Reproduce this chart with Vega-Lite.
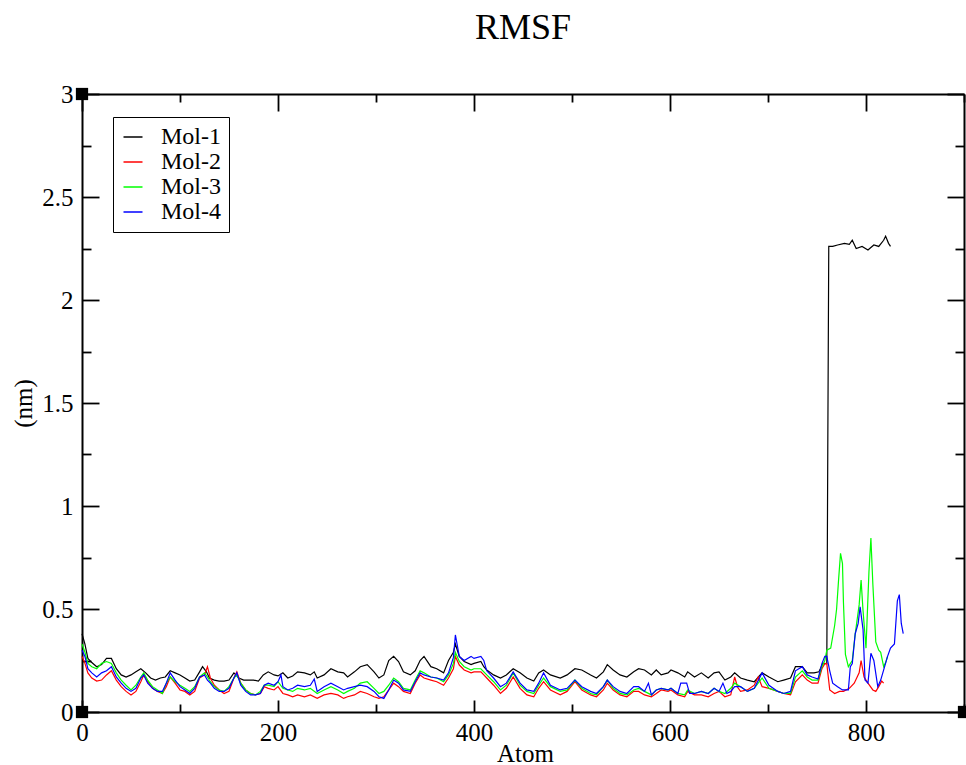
{
"$schema": "https://vega.github.io/schema/vega-lite/v6.json",
"width": 882, "height": 618,
"autosize": {"type": "none"},
"padding": {"left": 82, "top": 94, "right": 2, "bottom": 53},
"background": "white",
"title": {"text": "RMSF", "font": "Liberation Serif", "fontSize": 36, "fontWeight": "normal", "color": "black", "anchor": "middle", "frame": "group", "baseline": "alphabetic", "offset": 7},
"config": {
  "view": {"stroke": null},
  "axis": {"grid": false, "domainColor": "black", "domainWidth": 2, "tickColor": "black", "tickWidth": 1.8, "labelColor": "black", "labelFont": "Liberation Serif", "labelFontSize": 25, "titleFont": "Liberation Serif", "titleFontSize": 25, "titleFontWeight": "normal", "titleColor": "black", "labelFlush": false, "labelOverlap": false}
},
"datasets": {
"rmsf": [
{"atom":0,"mol":"Mol-1","rmsf":0.38},{"atom":3,"mol":"Mol-1","rmsf":0.33},{"atom":6,"mol":"Mol-1","rmsf":0.26},{"atom":10,"mol":"Mol-1","rmsf":0.24},{"atom":15,"mol":"Mol-1","rmsf":0.22},{"atom":20,"mol":"Mol-1","rmsf":0.23},{"atom":25,"mol":"Mol-1","rmsf":0.26},{"atom":30,"mol":"Mol-1","rmsf":0.26},{"atom":35,"mol":"Mol-1","rmsf":0.21},{"atom":40,"mol":"Mol-1","rmsf":0.18},{"atom":45,"mol":"Mol-1","rmsf":0.17},{"atom":50,"mol":"Mol-1","rmsf":0.18},{"atom":55,"mol":"Mol-1","rmsf":0.195},{"atom":60,"mol":"Mol-1","rmsf":0.21},{"atom":65,"mol":"Mol-1","rmsf":0.19},{"atom":70,"mol":"Mol-1","rmsf":0.165},{"atom":75,"mol":"Mol-1","rmsf":0.155},{"atom":80,"mol":"Mol-1","rmsf":0.165},{"atom":85,"mol":"Mol-1","rmsf":0.17},{"atom":90,"mol":"Mol-1","rmsf":0.2},{"atom":95,"mol":"Mol-1","rmsf":0.19},{"atom":100,"mol":"Mol-1","rmsf":0.18},{"atom":105,"mol":"Mol-1","rmsf":0.165},{"atom":110,"mol":"Mol-1","rmsf":0.15},{"atom":115,"mol":"Mol-1","rmsf":0.155},{"atom":120,"mol":"Mol-1","rmsf":0.195},{"atom":123,"mol":"Mol-1","rmsf":0.22},{"atom":127,"mol":"Mol-1","rmsf":0.195},{"atom":130,"mol":"Mol-1","rmsf":0.165},{"atom":135,"mol":"Mol-1","rmsf":0.155},{"atom":140,"mol":"Mol-1","rmsf":0.15},{"atom":145,"mol":"Mol-1","rmsf":0.15},{"atom":150,"mol":"Mol-1","rmsf":0.155},{"atom":155,"mol":"Mol-1","rmsf":0.19},{"atom":160,"mol":"Mol-1","rmsf":0.165},{"atom":165,"mol":"Mol-1","rmsf":0.155},{"atom":170,"mol":"Mol-1","rmsf":0.155},{"atom":175,"mol":"Mol-1","rmsf":0.155},{"atom":180,"mol":"Mol-1","rmsf":0.15},{"atom":185,"mol":"Mol-1","rmsf":0.18},{"atom":190,"mol":"Mol-1","rmsf":0.195},{"atom":196,"mol":"Mol-1","rmsf":0.18},{"atom":200,"mol":"Mol-1","rmsf":0.175},{"atom":205,"mol":"Mol-1","rmsf":0.19},{"atom":210,"mol":"Mol-1","rmsf":0.165},{"atom":215,"mol":"Mol-1","rmsf":0.175},{"atom":220,"mol":"Mol-1","rmsf":0.195},{"atom":227,"mol":"Mol-1","rmsf":0.19},{"atom":233,"mol":"Mol-1","rmsf":0.18},{"atom":237,"mol":"Mol-1","rmsf":0.195},{"atom":240,"mol":"Mol-1","rmsf":0.165},{"atom":247,"mol":"Mol-1","rmsf":0.18},{"atom":254,"mol":"Mol-1","rmsf":0.21},{"atom":261,"mol":"Mol-1","rmsf":0.195},{"atom":267,"mol":"Mol-1","rmsf":0.19},{"atom":271,"mol":"Mol-1","rmsf":0.17},{"atom":278,"mol":"Mol-1","rmsf":0.195},{"atom":284,"mol":"Mol-1","rmsf":0.22},{"atom":291,"mol":"Mol-1","rmsf":0.23},{"atom":298,"mol":"Mol-1","rmsf":0.195},{"atom":303,"mol":"Mol-1","rmsf":0.165},{"atom":308,"mol":"Mol-1","rmsf":0.18},{"atom":313,"mol":"Mol-1","rmsf":0.25},{"atom":318,"mol":"Mol-1","rmsf":0.27},{"atom":323,"mol":"Mol-1","rmsf":0.245},{"atom":328,"mol":"Mol-1","rmsf":0.195},{"atom":335,"mol":"Mol-1","rmsf":0.18},{"atom":340,"mol":"Mol-1","rmsf":0.2},{"atom":345,"mol":"Mol-1","rmsf":0.25},{"atom":349,"mol":"Mol-1","rmsf":0.27},{"atom":356,"mol":"Mol-1","rmsf":0.22},{"atom":362,"mol":"Mol-1","rmsf":0.21},{"atom":369,"mol":"Mol-1","rmsf":0.19},{"atom":374,"mol":"Mol-1","rmsf":0.25},{"atom":379,"mol":"Mol-1","rmsf":0.29},{"atom":381,"mol":"Mol-1","rmsf":0.33},{"atom":385,"mol":"Mol-1","rmsf":0.27},{"atom":390,"mol":"Mol-1","rmsf":0.245},{"atom":397,"mol":"Mol-1","rmsf":0.23},{"atom":400,"mol":"Mol-1","rmsf":0.236},{"atom":407,"mol":"Mol-1","rmsf":0.245},{"atom":410,"mol":"Mol-1","rmsf":0.22},{"atom":413,"mol":"Mol-1","rmsf":0.204},{"atom":420,"mol":"Mol-1","rmsf":0.18},{"atom":427,"mol":"Mol-1","rmsf":0.165},{"atom":433,"mol":"Mol-1","rmsf":0.18},{"atom":440,"mol":"Mol-1","rmsf":0.21},{"atom":447,"mol":"Mol-1","rmsf":0.19},{"atom":454,"mol":"Mol-1","rmsf":0.165},{"atom":461,"mol":"Mol-1","rmsf":0.15},{"atom":466,"mol":"Mol-1","rmsf":0.19},{"atom":471,"mol":"Mol-1","rmsf":0.204},{"atom":478,"mol":"Mol-1","rmsf":0.18},{"atom":488,"mol":"Mol-1","rmsf":0.165},{"atom":495,"mol":"Mol-1","rmsf":0.18},{"atom":503,"mol":"Mol-1","rmsf":0.21},{"atom":510,"mol":"Mol-1","rmsf":0.204},{"atom":519,"mol":"Mol-1","rmsf":0.18},{"atom":525,"mol":"Mol-1","rmsf":0.165},{"atom":532,"mol":"Mol-1","rmsf":0.195},{"atom":536,"mol":"Mol-1","rmsf":0.23},{"atom":542,"mol":"Mol-1","rmsf":0.204},{"atom":549,"mol":"Mol-1","rmsf":0.18},{"atom":556,"mol":"Mol-1","rmsf":0.17},{"atom":563,"mol":"Mol-1","rmsf":0.195},{"atom":568,"mol":"Mol-1","rmsf":0.21},{"atom":574,"mol":"Mol-1","rmsf":0.204},{"atom":581,"mol":"Mol-1","rmsf":0.18},{"atom":586,"mol":"Mol-1","rmsf":0.204},{"atom":591,"mol":"Mol-1","rmsf":0.18},{"atom":598,"mol":"Mol-1","rmsf":0.19},{"atom":601,"mol":"Mol-1","rmsf":0.204},{"atom":608,"mol":"Mol-1","rmsf":0.19},{"atom":615,"mol":"Mol-1","rmsf":0.17},{"atom":618,"mol":"Mol-1","rmsf":0.195},{"atom":625,"mol":"Mol-1","rmsf":0.17},{"atom":632,"mol":"Mol-1","rmsf":0.19},{"atom":639,"mol":"Mol-1","rmsf":0.165},{"atom":645,"mol":"Mol-1","rmsf":0.19},{"atom":650,"mol":"Mol-1","rmsf":0.195},{"atom":656,"mol":"Mol-1","rmsf":0.155},{"atom":662,"mol":"Mol-1","rmsf":0.17},{"atom":666,"mol":"Mol-1","rmsf":0.19},{"atom":672,"mol":"Mol-1","rmsf":0.165},{"atom":679,"mol":"Mol-1","rmsf":0.155},{"atom":686,"mol":"Mol-1","rmsf":0.147},{"atom":694,"mol":"Mol-1","rmsf":0.19},{"atom":701,"mol":"Mol-1","rmsf":0.17},{"atom":710,"mol":"Mol-1","rmsf":0.147},{"atom":716,"mol":"Mol-1","rmsf":0.155},{"atom":723,"mol":"Mol-1","rmsf":0.165},{"atom":728,"mol":"Mol-1","rmsf":0.22},{"atom":735,"mol":"Mol-1","rmsf":0.22},{"atom":740,"mol":"Mol-1","rmsf":0.19},{"atom":747,"mol":"Mol-1","rmsf":0.19},{"atom":752,"mol":"Mol-1","rmsf":0.195},{"atom":756,"mol":"Mol-1","rmsf":0.236},{"atom":760,"mol":"Mol-1","rmsf":0.235},{"atom":761,"mol":"Mol-1","rmsf":1.27},{"atom":762,"mol":"Mol-1","rmsf":2.26},{"atom":766,"mol":"Mol-1","rmsf":2.26},{"atom":771,"mol":"Mol-1","rmsf":2.267},{"atom":778,"mol":"Mol-1","rmsf":2.275},{"atom":783,"mol":"Mol-1","rmsf":2.27},{"atom":786,"mol":"Mol-1","rmsf":2.29},{"atom":790,"mol":"Mol-1","rmsf":2.25},{"atom":796,"mol":"Mol-1","rmsf":2.26},{"atom":802,"mol":"Mol-1","rmsf":2.243},{"atom":808,"mol":"Mol-1","rmsf":2.267},{"atom":813,"mol":"Mol-1","rmsf":2.26},{"atom":818,"mol":"Mol-1","rmsf":2.29},{"atom":820,"mol":"Mol-1","rmsf":2.31},{"atom":823,"mol":"Mol-1","rmsf":2.275},{"atom":825,"mol":"Mol-1","rmsf":2.26},
{"atom":0,"mol":"Mol-2","rmsf":0.27},{"atom":3,"mol":"Mol-2","rmsf":0.236},{"atom":6,"mol":"Mol-2","rmsf":0.19},{"atom":10,"mol":"Mol-2","rmsf":0.165},{"atom":15,"mol":"Mol-2","rmsf":0.15},{"atom":20,"mol":"Mol-2","rmsf":0.155},{"atom":25,"mol":"Mol-2","rmsf":0.18},{"atom":30,"mol":"Mol-2","rmsf":0.2},{"atom":35,"mol":"Mol-2","rmsf":0.155},{"atom":40,"mol":"Mol-2","rmsf":0.123},{"atom":45,"mol":"Mol-2","rmsf":0.1},{"atom":50,"mol":"Mol-2","rmsf":0.083},{"atom":55,"mol":"Mol-2","rmsf":0.1},{"atom":60,"mol":"Mol-2","rmsf":0.147},{"atom":63,"mol":"Mol-2","rmsf":0.18},{"atom":67,"mol":"Mol-2","rmsf":0.147},{"atom":72,"mol":"Mol-2","rmsf":0.115},{"atom":77,"mol":"Mol-2","rmsf":0.1},{"atom":82,"mol":"Mol-2","rmsf":0.09},{"atom":86,"mol":"Mol-2","rmsf":0.123},{"atom":90,"mol":"Mol-2","rmsf":0.17},{"atom":95,"mol":"Mol-2","rmsf":0.14},{"atom":100,"mol":"Mol-2","rmsf":0.107},{"atom":105,"mol":"Mol-2","rmsf":0.1},{"atom":110,"mol":"Mol-2","rmsf":0.083},{"atom":115,"mol":"Mol-2","rmsf":0.1},{"atom":120,"mol":"Mol-2","rmsf":0.165},{"atom":125,"mol":"Mol-2","rmsf":0.18},{"atom":128,"mol":"Mol-2","rmsf":0.22},{"atom":131,"mol":"Mol-2","rmsf":0.165},{"atom":135,"mol":"Mol-2","rmsf":0.13},{"atom":140,"mol":"Mol-2","rmsf":0.107},{"atom":145,"mol":"Mol-2","rmsf":0.09},{"atom":150,"mol":"Mol-2","rmsf":0.1},{"atom":155,"mol":"Mol-2","rmsf":0.165},{"atom":158,"mol":"Mol-2","rmsf":0.195},{"atom":162,"mol":"Mol-2","rmsf":0.14},{"atom":167,"mol":"Mol-2","rmsf":0.107},{"atom":172,"mol":"Mol-2","rmsf":0.09},{"atom":177,"mol":"Mol-2","rmsf":0.083},{"atom":182,"mol":"Mol-2","rmsf":0.09},{"atom":186,"mol":"Mol-2","rmsf":0.123},{"atom":190,"mol":"Mol-2","rmsf":0.115},{"atom":196,"mol":"Mol-2","rmsf":0.107},{"atom":200,"mol":"Mol-2","rmsf":0.123},{"atom":205,"mol":"Mol-2","rmsf":0.09},{"atom":210,"mol":"Mol-2","rmsf":0.083},{"atom":215,"mol":"Mol-2","rmsf":0.074},{"atom":220,"mol":"Mol-2","rmsf":0.083},{"atom":227,"mol":"Mol-2","rmsf":0.074},{"atom":233,"mol":"Mol-2","rmsf":0.083},{"atom":240,"mol":"Mol-2","rmsf":0.066},{"atom":247,"mol":"Mol-2","rmsf":0.083},{"atom":254,"mol":"Mol-2","rmsf":0.09},{"atom":261,"mol":"Mol-2","rmsf":0.083},{"atom":267,"mol":"Mol-2","rmsf":0.066},{"atom":271,"mol":"Mol-2","rmsf":0.074},{"atom":278,"mol":"Mol-2","rmsf":0.083},{"atom":284,"mol":"Mol-2","rmsf":0.1},{"atom":291,"mol":"Mol-2","rmsf":0.09},{"atom":298,"mol":"Mol-2","rmsf":0.074},{"atom":303,"mol":"Mol-2","rmsf":0.066},{"atom":308,"mol":"Mol-2","rmsf":0.074},{"atom":313,"mol":"Mol-2","rmsf":0.107},{"atom":318,"mol":"Mol-2","rmsf":0.14},{"atom":323,"mol":"Mol-2","rmsf":0.123},{"atom":328,"mol":"Mol-2","rmsf":0.1},{"atom":335,"mol":"Mol-2","rmsf":0.09},{"atom":340,"mol":"Mol-2","rmsf":0.14},{"atom":345,"mol":"Mol-2","rmsf":0.18},{"atom":349,"mol":"Mol-2","rmsf":0.165},{"atom":356,"mol":"Mol-2","rmsf":0.155},{"atom":362,"mol":"Mol-2","rmsf":0.147},{"atom":369,"mol":"Mol-2","rmsf":0.13},{"atom":374,"mol":"Mol-2","rmsf":0.165},{"atom":379,"mol":"Mol-2","rmsf":0.21},{"atom":381,"mol":"Mol-2","rmsf":0.27},{"atom":385,"mol":"Mol-2","rmsf":0.228},{"atom":390,"mol":"Mol-2","rmsf":0.204},{"atom":397,"mol":"Mol-2","rmsf":0.19},{"atom":400,"mol":"Mol-2","rmsf":0.195},{"atom":407,"mol":"Mol-2","rmsf":0.195},{"atom":410,"mol":"Mol-2","rmsf":0.18},{"atom":413,"mol":"Mol-2","rmsf":0.165},{"atom":420,"mol":"Mol-2","rmsf":0.13},{"atom":427,"mol":"Mol-2","rmsf":0.09},{"atom":433,"mol":"Mol-2","rmsf":0.115},{"atom":440,"mol":"Mol-2","rmsf":0.17},{"atom":447,"mol":"Mol-2","rmsf":0.115},{"atom":454,"mol":"Mol-2","rmsf":0.083},{"atom":461,"mol":"Mol-2","rmsf":0.074},{"atom":466,"mol":"Mol-2","rmsf":0.115},{"atom":471,"mol":"Mol-2","rmsf":0.147},{"atom":478,"mol":"Mol-2","rmsf":0.107},{"atom":488,"mol":"Mol-2","rmsf":0.083},{"atom":495,"mol":"Mol-2","rmsf":0.1},{"atom":503,"mol":"Mol-2","rmsf":0.147},{"atom":510,"mol":"Mol-2","rmsf":0.107},{"atom":519,"mol":"Mol-2","rmsf":0.083},{"atom":525,"mol":"Mol-2","rmsf":0.074},{"atom":532,"mol":"Mol-2","rmsf":0.107},{"atom":536,"mol":"Mol-2","rmsf":0.14},{"atom":542,"mol":"Mol-2","rmsf":0.107},{"atom":549,"mol":"Mol-2","rmsf":0.083},{"atom":556,"mol":"Mol-2","rmsf":0.074},{"atom":563,"mol":"Mol-2","rmsf":0.1},{"atom":568,"mol":"Mol-2","rmsf":0.1},{"atom":574,"mol":"Mol-2","rmsf":0.083},{"atom":581,"mol":"Mol-2","rmsf":0.074},{"atom":586,"mol":"Mol-2","rmsf":0.09},{"atom":591,"mol":"Mol-2","rmsf":0.107},{"atom":598,"mol":"Mol-2","rmsf":0.1},{"atom":601,"mol":"Mol-2","rmsf":0.107},{"atom":608,"mol":"Mol-2","rmsf":0.083},{"atom":615,"mol":"Mol-2","rmsf":0.074},{"atom":618,"mol":"Mol-2","rmsf":0.1},{"atom":625,"mol":"Mol-2","rmsf":0.083},{"atom":632,"mol":"Mol-2","rmsf":0.083},{"atom":639,"mol":"Mol-2","rmsf":0.074},{"atom":645,"mol":"Mol-2","rmsf":0.09},{"atom":650,"mol":"Mol-2","rmsf":0.1},{"atom":656,"mol":"Mol-2","rmsf":0.074},{"atom":662,"mol":"Mol-2","rmsf":0.083},{"atom":666,"mol":"Mol-2","rmsf":0.17},{"atom":669,"mol":"Mol-2","rmsf":0.12},{"atom":672,"mol":"Mol-2","rmsf":0.1},{"atom":679,"mol":"Mol-2","rmsf":0.107},{"atom":686,"mol":"Mol-2","rmsf":0.13},{"atom":690,"mol":"Mol-2","rmsf":0.17},{"atom":694,"mol":"Mol-2","rmsf":0.123},{"atom":701,"mol":"Mol-2","rmsf":0.115},{"atom":710,"mol":"Mol-2","rmsf":0.1},{"atom":716,"mol":"Mol-2","rmsf":0.09},{"atom":723,"mol":"Mol-2","rmsf":0.083},{"atom":728,"mol":"Mol-2","rmsf":0.147},{"atom":735,"mol":"Mol-2","rmsf":0.18},{"atom":740,"mol":"Mol-2","rmsf":0.155},{"atom":745,"mol":"Mol-2","rmsf":0.14},{"atom":751,"mol":"Mol-2","rmsf":0.14},{"atom":755,"mol":"Mol-2","rmsf":0.21},{"atom":758,"mol":"Mol-2","rmsf":0.235},{"atom":760,"mol":"Mol-2","rmsf":0.235},{"atom":763,"mol":"Mol-2","rmsf":0.107},{"atom":768,"mol":"Mol-2","rmsf":0.09},{"atom":773,"mol":"Mol-2","rmsf":0.1},{"atom":777,"mol":"Mol-2","rmsf":0.1},{"atom":783,"mol":"Mol-2","rmsf":0.115},{"atom":788,"mol":"Mol-2","rmsf":0.14},{"atom":793,"mol":"Mol-2","rmsf":0.19},{"atom":795,"mol":"Mol-2","rmsf":0.25},{"atom":798,"mol":"Mol-2","rmsf":0.17},{"atom":802,"mol":"Mol-2","rmsf":0.14},{"atom":807,"mol":"Mol-2","rmsf":0.107},{"atom":810,"mol":"Mol-2","rmsf":0.1},{"atom":813,"mol":"Mol-2","rmsf":0.123},{"atom":816,"mol":"Mol-2","rmsf":0.15},{"atom":818,"mol":"Mol-2","rmsf":0.14},
{"atom":0,"mol":"Mol-3","rmsf":0.33},{"atom":3,"mol":"Mol-3","rmsf":0.29},{"atom":6,"mol":"Mol-3","rmsf":0.236},{"atom":10,"mol":"Mol-3","rmsf":0.22},{"atom":15,"mol":"Mol-3","rmsf":0.21},{"atom":20,"mol":"Mol-3","rmsf":0.236},{"atom":25,"mol":"Mol-3","rmsf":0.245},{"atom":30,"mol":"Mol-3","rmsf":0.236},{"atom":35,"mol":"Mol-3","rmsf":0.19},{"atom":40,"mol":"Mol-3","rmsf":0.155},{"atom":45,"mol":"Mol-3","rmsf":0.13},{"atom":50,"mol":"Mol-3","rmsf":0.107},{"atom":55,"mol":"Mol-3","rmsf":0.13},{"atom":60,"mol":"Mol-3","rmsf":0.17},{"atom":63,"mol":"Mol-3","rmsf":0.19},{"atom":67,"mol":"Mol-3","rmsf":0.155},{"atom":72,"mol":"Mol-3","rmsf":0.123},{"atom":77,"mol":"Mol-3","rmsf":0.107},{"atom":82,"mol":"Mol-3","rmsf":0.09},{"atom":86,"mol":"Mol-3","rmsf":0.14},{"atom":90,"mol":"Mol-3","rmsf":0.17},{"atom":95,"mol":"Mol-3","rmsf":0.147},{"atom":100,"mol":"Mol-3","rmsf":0.13},{"atom":105,"mol":"Mol-3","rmsf":0.115},{"atom":110,"mol":"Mol-3","rmsf":0.1},{"atom":115,"mol":"Mol-3","rmsf":0.123},{"atom":120,"mol":"Mol-3","rmsf":0.17},{"atom":125,"mol":"Mol-3","rmsf":0.19},{"atom":128,"mol":"Mol-3","rmsf":0.17},{"atom":131,"mol":"Mol-3","rmsf":0.147},{"atom":135,"mol":"Mol-3","rmsf":0.123},{"atom":140,"mol":"Mol-3","rmsf":0.107},{"atom":145,"mol":"Mol-3","rmsf":0.1},{"atom":150,"mol":"Mol-3","rmsf":0.123},{"atom":155,"mol":"Mol-3","rmsf":0.165},{"atom":158,"mol":"Mol-3","rmsf":0.18},{"atom":162,"mol":"Mol-3","rmsf":0.14},{"atom":167,"mol":"Mol-3","rmsf":0.107},{"atom":172,"mol":"Mol-3","rmsf":0.09},{"atom":177,"mol":"Mol-3","rmsf":0.083},{"atom":182,"mol":"Mol-3","rmsf":0.1},{"atom":186,"mol":"Mol-3","rmsf":0.13},{"atom":190,"mol":"Mol-3","rmsf":0.13},{"atom":196,"mol":"Mol-3","rmsf":0.123},{"atom":200,"mol":"Mol-3","rmsf":0.147},{"atom":205,"mol":"Mol-3","rmsf":0.115},{"atom":210,"mol":"Mol-3","rmsf":0.107},{"atom":215,"mol":"Mol-3","rmsf":0.1},{"atom":220,"mol":"Mol-3","rmsf":0.115},{"atom":227,"mol":"Mol-3","rmsf":0.107},{"atom":233,"mol":"Mol-3","rmsf":0.115},{"atom":240,"mol":"Mol-3","rmsf":0.09},{"atom":247,"mol":"Mol-3","rmsf":0.107},{"atom":254,"mol":"Mol-3","rmsf":0.123},{"atom":261,"mol":"Mol-3","rmsf":0.107},{"atom":267,"mol":"Mol-3","rmsf":0.09},{"atom":271,"mol":"Mol-3","rmsf":0.1},{"atom":278,"mol":"Mol-3","rmsf":0.115},{"atom":284,"mol":"Mol-3","rmsf":0.14},{"atom":291,"mol":"Mol-3","rmsf":0.147},{"atom":298,"mol":"Mol-3","rmsf":0.115},{"atom":303,"mol":"Mol-3","rmsf":0.09},{"atom":308,"mol":"Mol-3","rmsf":0.1},{"atom":313,"mol":"Mol-3","rmsf":0.13},{"atom":318,"mol":"Mol-3","rmsf":0.165},{"atom":323,"mol":"Mol-3","rmsf":0.147},{"atom":328,"mol":"Mol-3","rmsf":0.115},{"atom":335,"mol":"Mol-3","rmsf":0.107},{"atom":340,"mol":"Mol-3","rmsf":0.155},{"atom":345,"mol":"Mol-3","rmsf":0.2},{"atom":349,"mol":"Mol-3","rmsf":0.19},{"atom":356,"mol":"Mol-3","rmsf":0.17},{"atom":362,"mol":"Mol-3","rmsf":0.165},{"atom":369,"mol":"Mol-3","rmsf":0.147},{"atom":374,"mol":"Mol-3","rmsf":0.18},{"atom":379,"mol":"Mol-3","rmsf":0.236},{"atom":381,"mol":"Mol-3","rmsf":0.29},{"atom":385,"mol":"Mol-3","rmsf":0.245},{"atom":390,"mol":"Mol-3","rmsf":0.22},{"atom":397,"mol":"Mol-3","rmsf":0.204},{"atom":400,"mol":"Mol-3","rmsf":0.21},{"atom":407,"mol":"Mol-3","rmsf":0.21},{"atom":410,"mol":"Mol-3","rmsf":0.195},{"atom":413,"mol":"Mol-3","rmsf":0.18},{"atom":420,"mol":"Mol-3","rmsf":0.147},{"atom":427,"mol":"Mol-3","rmsf":0.107},{"atom":433,"mol":"Mol-3","rmsf":0.13},{"atom":440,"mol":"Mol-3","rmsf":0.19},{"atom":447,"mol":"Mol-3","rmsf":0.13},{"atom":454,"mol":"Mol-3","rmsf":0.1},{"atom":461,"mol":"Mol-3","rmsf":0.09},{"atom":466,"mol":"Mol-3","rmsf":0.13},{"atom":471,"mol":"Mol-3","rmsf":0.165},{"atom":478,"mol":"Mol-3","rmsf":0.123},{"atom":488,"mol":"Mol-3","rmsf":0.1},{"atom":495,"mol":"Mol-3","rmsf":0.107},{"atom":503,"mol":"Mol-3","rmsf":0.155},{"atom":510,"mol":"Mol-3","rmsf":0.115},{"atom":519,"mol":"Mol-3","rmsf":0.09},{"atom":525,"mol":"Mol-3","rmsf":0.083},{"atom":532,"mol":"Mol-3","rmsf":0.123},{"atom":536,"mol":"Mol-3","rmsf":0.155},{"atom":542,"mol":"Mol-3","rmsf":0.115},{"atom":549,"mol":"Mol-3","rmsf":0.09},{"atom":556,"mol":"Mol-3","rmsf":0.083},{"atom":563,"mol":"Mol-3","rmsf":0.107},{"atom":568,"mol":"Mol-3","rmsf":0.115},{"atom":574,"mol":"Mol-3","rmsf":0.1},{"atom":581,"mol":"Mol-3","rmsf":0.083},{"atom":586,"mol":"Mol-3","rmsf":0.107},{"atom":591,"mol":"Mol-3","rmsf":0.115},{"atom":598,"mol":"Mol-3","rmsf":0.107},{"atom":601,"mol":"Mol-3","rmsf":0.115},{"atom":608,"mol":"Mol-3","rmsf":0.09},{"atom":615,"mol":"Mol-3","rmsf":0.083},{"atom":618,"mol":"Mol-3","rmsf":0.107},{"atom":625,"mol":"Mol-3","rmsf":0.09},{"atom":632,"mol":"Mol-3","rmsf":0.1},{"atom":639,"mol":"Mol-3","rmsf":0.09},{"atom":645,"mol":"Mol-3","rmsf":0.115},{"atom":650,"mol":"Mol-3","rmsf":0.1},{"atom":656,"mol":"Mol-3","rmsf":0.09},{"atom":662,"mol":"Mol-3","rmsf":0.115},{"atom":666,"mol":"Mol-3","rmsf":0.14},{"atom":672,"mol":"Mol-3","rmsf":0.123},{"atom":679,"mol":"Mol-3","rmsf":0.1},{"atom":686,"mol":"Mol-3","rmsf":0.115},{"atom":694,"mol":"Mol-3","rmsf":0.165},{"atom":701,"mol":"Mol-3","rmsf":0.115},{"atom":710,"mol":"Mol-3","rmsf":0.1},{"atom":716,"mol":"Mol-3","rmsf":0.09},{"atom":723,"mol":"Mol-3","rmsf":0.09},{"atom":728,"mol":"Mol-3","rmsf":0.17},{"atom":735,"mol":"Mol-3","rmsf":0.2},{"atom":740,"mol":"Mol-3","rmsf":0.17},{"atom":745,"mol":"Mol-3","rmsf":0.155},{"atom":751,"mol":"Mol-3","rmsf":0.155},{"atom":755,"mol":"Mol-3","rmsf":0.22},{"atom":758,"mol":"Mol-3","rmsf":0.25},{"atom":760,"mol":"Mol-3","rmsf":0.3},{"atom":764,"mol":"Mol-3","rmsf":0.31},{"atom":768,"mol":"Mol-3","rmsf":0.42},{"atom":770,"mol":"Mol-3","rmsf":0.5},{"atom":772,"mol":"Mol-3","rmsf":0.64},{"atom":774,"mol":"Mol-3","rmsf":0.77},{"atom":776,"mol":"Mol-3","rmsf":0.72},{"atom":777,"mol":"Mol-3","rmsf":0.53},{"atom":779,"mol":"Mol-3","rmsf":0.28},{"atom":782,"mol":"Mol-3","rmsf":0.22},{"atom":786,"mol":"Mol-3","rmsf":0.25},{"atom":789,"mol":"Mol-3","rmsf":0.38},{"atom":793,"mol":"Mol-3","rmsf":0.52},{"atom":795,"mol":"Mol-3","rmsf":0.64},{"atom":797,"mol":"Mol-3","rmsf":0.49},{"atom":800,"mol":"Mol-3","rmsf":0.31},{"atom":803,"mol":"Mol-3","rmsf":0.68},{"atom":805,"mol":"Mol-3","rmsf":0.845},{"atom":807,"mol":"Mol-3","rmsf":0.62},{"atom":810,"mol":"Mol-3","rmsf":0.34},{"atom":813,"mol":"Mol-3","rmsf":0.3},{"atom":815,"mol":"Mol-3","rmsf":0.29},{"atom":818,"mol":"Mol-3","rmsf":0.22},{"atom":820,"mol":"Mol-3","rmsf":0.24},{"atom":822,"mol":"Mol-3","rmsf":0.27},
{"atom":0,"mol":"Mol-4","rmsf":0.3},{"atom":3,"mol":"Mol-4","rmsf":0.27},{"atom":6,"mol":"Mol-4","rmsf":0.21},{"atom":10,"mol":"Mol-4","rmsf":0.19},{"atom":15,"mol":"Mol-4","rmsf":0.17},{"atom":20,"mol":"Mol-4","rmsf":0.19},{"atom":25,"mol":"Mol-4","rmsf":0.2},{"atom":30,"mol":"Mol-4","rmsf":0.22},{"atom":35,"mol":"Mol-4","rmsf":0.17},{"atom":40,"mol":"Mol-4","rmsf":0.14},{"atom":45,"mol":"Mol-4","rmsf":0.115},{"atom":50,"mol":"Mol-4","rmsf":0.1},{"atom":55,"mol":"Mol-4","rmsf":0.115},{"atom":60,"mol":"Mol-4","rmsf":0.165},{"atom":63,"mol":"Mol-4","rmsf":0.18},{"atom":67,"mol":"Mol-4","rmsf":0.14},{"atom":72,"mol":"Mol-4","rmsf":0.115},{"atom":77,"mol":"Mol-4","rmsf":0.1},{"atom":82,"mol":"Mol-4","rmsf":0.1},{"atom":86,"mol":"Mol-4","rmsf":0.14},{"atom":90,"mol":"Mol-4","rmsf":0.19},{"atom":95,"mol":"Mol-4","rmsf":0.155},{"atom":100,"mol":"Mol-4","rmsf":0.123},{"atom":105,"mol":"Mol-4","rmsf":0.107},{"atom":110,"mol":"Mol-4","rmsf":0.09},{"atom":115,"mol":"Mol-4","rmsf":0.115},{"atom":120,"mol":"Mol-4","rmsf":0.17},{"atom":125,"mol":"Mol-4","rmsf":0.18},{"atom":128,"mol":"Mol-4","rmsf":0.155},{"atom":131,"mol":"Mol-4","rmsf":0.14},{"atom":135,"mol":"Mol-4","rmsf":0.115},{"atom":140,"mol":"Mol-4","rmsf":0.1},{"atom":145,"mol":"Mol-4","rmsf":0.1},{"atom":150,"mol":"Mol-4","rmsf":0.115},{"atom":155,"mol":"Mol-4","rmsf":0.165},{"atom":158,"mol":"Mol-4","rmsf":0.19},{"atom":162,"mol":"Mol-4","rmsf":0.13},{"atom":167,"mol":"Mol-4","rmsf":0.1},{"atom":172,"mol":"Mol-4","rmsf":0.083},{"atom":177,"mol":"Mol-4","rmsf":0.083},{"atom":182,"mol":"Mol-4","rmsf":0.09},{"atom":186,"mol":"Mol-4","rmsf":0.13},{"atom":190,"mol":"Mol-4","rmsf":0.14},{"atom":196,"mol":"Mol-4","rmsf":0.13},{"atom":200,"mol":"Mol-4","rmsf":0.147},{"atom":203,"mol":"Mol-4","rmsf":0.18},{"atom":205,"mol":"Mol-4","rmsf":0.123},{"atom":210,"mol":"Mol-4","rmsf":0.107},{"atom":215,"mol":"Mol-4","rmsf":0.115},{"atom":220,"mol":"Mol-4","rmsf":0.13},{"atom":227,"mol":"Mol-4","rmsf":0.123},{"atom":233,"mol":"Mol-4","rmsf":0.13},{"atom":237,"mol":"Mol-4","rmsf":0.16},{"atom":240,"mol":"Mol-4","rmsf":0.1},{"atom":247,"mol":"Mol-4","rmsf":0.123},{"atom":254,"mol":"Mol-4","rmsf":0.14},{"atom":261,"mol":"Mol-4","rmsf":0.123},{"atom":267,"mol":"Mol-4","rmsf":0.107},{"atom":271,"mol":"Mol-4","rmsf":0.115},{"atom":278,"mol":"Mol-4","rmsf":0.123},{"atom":284,"mol":"Mol-4","rmsf":0.13},{"atom":291,"mol":"Mol-4","rmsf":0.123},{"atom":298,"mol":"Mol-4","rmsf":0.1},{"atom":303,"mol":"Mol-4","rmsf":0.074},{"atom":308,"mol":"Mol-4","rmsf":0.066},{"atom":313,"mol":"Mol-4","rmsf":0.107},{"atom":318,"mol":"Mol-4","rmsf":0.155},{"atom":323,"mol":"Mol-4","rmsf":0.14},{"atom":328,"mol":"Mol-4","rmsf":0.107},{"atom":335,"mol":"Mol-4","rmsf":0.1},{"atom":340,"mol":"Mol-4","rmsf":0.147},{"atom":345,"mol":"Mol-4","rmsf":0.19},{"atom":349,"mol":"Mol-4","rmsf":0.18},{"atom":356,"mol":"Mol-4","rmsf":0.17},{"atom":362,"mol":"Mol-4","rmsf":0.165},{"atom":369,"mol":"Mol-4","rmsf":0.155},{"atom":374,"mol":"Mol-4","rmsf":0.19},{"atom":379,"mol":"Mol-4","rmsf":0.265},{"atom":381,"mol":"Mol-4","rmsf":0.374},{"atom":385,"mol":"Mol-4","rmsf":0.27},{"atom":390,"mol":"Mol-4","rmsf":0.25},{"atom":397,"mol":"Mol-4","rmsf":0.27},{"atom":400,"mol":"Mol-4","rmsf":0.26},{"atom":407,"mol":"Mol-4","rmsf":0.27},{"atom":410,"mol":"Mol-4","rmsf":0.25},{"atom":413,"mol":"Mol-4","rmsf":0.2},{"atom":420,"mol":"Mol-4","rmsf":0.165},{"atom":427,"mol":"Mol-4","rmsf":0.123},{"atom":433,"mol":"Mol-4","rmsf":0.14},{"atom":440,"mol":"Mol-4","rmsf":0.195},{"atom":447,"mol":"Mol-4","rmsf":0.14},{"atom":454,"mol":"Mol-4","rmsf":0.107},{"atom":461,"mol":"Mol-4","rmsf":0.1},{"atom":466,"mol":"Mol-4","rmsf":0.14},{"atom":471,"mol":"Mol-4","rmsf":0.19},{"atom":478,"mol":"Mol-4","rmsf":0.13},{"atom":488,"mol":"Mol-4","rmsf":0.107},{"atom":495,"mol":"Mol-4","rmsf":0.115},{"atom":503,"mol":"Mol-4","rmsf":0.155},{"atom":510,"mol":"Mol-4","rmsf":0.123},{"atom":519,"mol":"Mol-4","rmsf":0.1},{"atom":525,"mol":"Mol-4","rmsf":0.09},{"atom":532,"mol":"Mol-4","rmsf":0.123},{"atom":536,"mol":"Mol-4","rmsf":0.155},{"atom":542,"mol":"Mol-4","rmsf":0.123},{"atom":549,"mol":"Mol-4","rmsf":0.1},{"atom":556,"mol":"Mol-4","rmsf":0.09},{"atom":563,"mol":"Mol-4","rmsf":0.123},{"atom":568,"mol":"Mol-4","rmsf":0.123},{"atom":574,"mol":"Mol-4","rmsf":0.1},{"atom":578,"mol":"Mol-4","rmsf":0.14},{"atom":581,"mol":"Mol-4","rmsf":0.083},{"atom":586,"mol":"Mol-4","rmsf":0.107},{"atom":591,"mol":"Mol-4","rmsf":0.115},{"atom":598,"mol":"Mol-4","rmsf":0.107},{"atom":601,"mol":"Mol-4","rmsf":0.115},{"atom":608,"mol":"Mol-4","rmsf":0.09},{"atom":611,"mol":"Mol-4","rmsf":0.14},{"atom":617,"mol":"Mol-4","rmsf":0.14},{"atom":620,"mol":"Mol-4","rmsf":0.09},{"atom":625,"mol":"Mol-4","rmsf":0.09},{"atom":632,"mol":"Mol-4","rmsf":0.1},{"atom":639,"mol":"Mol-4","rmsf":0.09},{"atom":645,"mol":"Mol-4","rmsf":0.115},{"atom":650,"mol":"Mol-4","rmsf":0.1},{"atom":654,"mol":"Mol-4","rmsf":0.14},{"atom":658,"mol":"Mol-4","rmsf":0.09},{"atom":662,"mol":"Mol-4","rmsf":0.1},{"atom":666,"mol":"Mol-4","rmsf":0.123},{"atom":672,"mol":"Mol-4","rmsf":0.123},{"atom":679,"mol":"Mol-4","rmsf":0.1},{"atom":686,"mol":"Mol-4","rmsf":0.115},{"atom":694,"mol":"Mol-4","rmsf":0.19},{"atom":701,"mol":"Mol-4","rmsf":0.13},{"atom":710,"mol":"Mol-4","rmsf":0.1},{"atom":716,"mol":"Mol-4","rmsf":0.09},{"atom":723,"mol":"Mol-4","rmsf":0.1},{"atom":728,"mol":"Mol-4","rmsf":0.2},{"atom":735,"mol":"Mol-4","rmsf":0.22},{"atom":740,"mol":"Mol-4","rmsf":0.18},{"atom":745,"mol":"Mol-4","rmsf":0.17},{"atom":751,"mol":"Mol-4","rmsf":0.16},{"atom":755,"mol":"Mol-4","rmsf":0.235},{"atom":758,"mol":"Mol-4","rmsf":0.27},{"atom":760,"mol":"Mol-4","rmsf":0.27},{"atom":763,"mol":"Mol-4","rmsf":0.2},{"atom":766,"mol":"Mol-4","rmsf":0.14},{"atom":771,"mol":"Mol-4","rmsf":0.123},{"atom":776,"mol":"Mol-4","rmsf":0.107},{"atom":782,"mol":"Mol-4","rmsf":0.107},{"atom":784,"mol":"Mol-4","rmsf":0.22},{"atom":786,"mol":"Mol-4","rmsf":0.235},{"atom":789,"mol":"Mol-4","rmsf":0.38},{"atom":792,"mol":"Mol-4","rmsf":0.43},{"atom":794,"mol":"Mol-4","rmsf":0.51},{"atom":797,"mol":"Mol-4","rmsf":0.4},{"atom":799,"mol":"Mol-4","rmsf":0.155},{"atom":802,"mol":"Mol-4","rmsf":0.14},{"atom":805,"mol":"Mol-4","rmsf":0.285},{"atom":808,"mol":"Mol-4","rmsf":0.25},{"atom":812,"mol":"Mol-4","rmsf":0.123},{"atom":815,"mol":"Mol-4","rmsf":0.155},{"atom":819,"mol":"Mol-4","rmsf":0.22},{"atom":822,"mol":"Mol-4","rmsf":0.27},{"atom":825,"mol":"Mol-4","rmsf":0.31},{"atom":829,"mol":"Mol-4","rmsf":0.33},{"atom":832,"mol":"Mol-4","rmsf":0.54},{"atom":834,"mol":"Mol-4","rmsf":0.57},{"atom":836,"mol":"Mol-4","rmsf":0.43},{"atom":838,"mol":"Mol-4","rmsf":0.38}
],
"corners": [{"atom":0,"rmsf":3},{"atom":0,"rmsf":0},{"atom":900,"rmsf":0}]
},
"layer": [
{
  "data": {"name": "rmsf"},
  "mark": {"type": "line", "strokeWidth": 1.2},
  "encoding": {
    "x": {"field": "atom", "type": "quantitative", "scale": {"domain": [0, 900], "nice": false, "zero": false},
      "axis": {"orient": "bottom", "values": [0, 200, 400, 600, 800], "tickSize": -12, "labelPadding": 20, "format": "d", "title": "Atom", "titleX": 443, "titleY": 49, "titleAlign": "center", "titleBaseline": "alphabetic", "titleAngle": 0}},
    "y": {"field": "rmsf", "type": "quantitative", "scale": {"domain": [0, 3], "nice": false, "zero": false},
      "axis": {"orient": "left", "values": [0, 0.5, 1, 1.5, 2, 2.5, 3], "tickSize": -17, "labelPadding": 26, "format": "~g", "labelBaseline": "middle", "title": "(nm)", "titleX": -51, "titleY": 309, "titleAngle": -90, "titleAlign": "center", "titleBaseline": "alphabetic"}},
    "color": {"field": "mol", "type": "nominal",
      "scale": {"domain": ["Mol-1", "Mol-2", "Mol-3", "Mol-4"], "range": ["#000000", "#ff0000", "#00ff00", "#0000ff"]},
      "legend": {"orient": "none", "legendX": 31, "legendY": 23, "title": null, "symbolType": "stroke", "symbolSize": 361, "symbolStrokeWidth": 1.5, "labelFont": "Liberation Serif", "labelFontSize": 24, "labelColor": "black", "labelOffset": 16, "strokeColor": "black", "padding": 8, "fillColor": "white", "rowPadding": 1}}
  }
},
{
  "data": {"name": "corners"},
  "mark": {"type": "square", "size": 150, "filled": true, "color": "black", "opacity": 1},
  "encoding": {
    "x": {"field": "atom", "type": "quantitative", "scale": {"domain": [0, 900], "nice": false, "zero": false},
      "axis": {"orient": "top", "values": [0, 200, 400, 600, 800], "tickSize": -17, "labels": false, "title": null}},
    "y": {"field": "rmsf", "type": "quantitative", "scale": {"domain": [0, 3], "nice": false, "zero": false},
      "axis": {"orient": "right", "values": [0, 0.5, 1, 1.5, 2, 2.5, 3], "tickSize": -17, "labels": false, "title": null}}
  }
},
{
  "data": {"name": "corners"},
  "mark": {"type": "point", "opacity": 0},
  "encoding": {
    "x": {"field": "atom", "type": "quantitative", "scale": {"domain": [0, 900], "nice": false, "zero": false},
      "axis": {"orient": "bottom", "values": [100, 300, 500, 700, 900], "tickSize": -8, "labels": false, "domain": false, "title": null}},
    "y": {"field": "rmsf", "type": "quantitative", "scale": {"domain": [0, 3], "nice": false, "zero": false},
      "axis": {"orient": "left", "values": [0.25, 0.75, 1.25, 1.75, 2.25, 2.75], "tickSize": -9, "labels": false, "domain": false, "title": null}}
  }
},
{
  "data": {"name": "corners"},
  "mark": {"type": "point", "opacity": 0},
  "encoding": {
    "x": {"field": "atom", "type": "quantitative", "scale": {"domain": [0, 900], "nice": false, "zero": false},
      "axis": {"orient": "top", "values": [100, 300, 500, 700, 900], "tickSize": -8, "labels": false, "domain": false, "title": null}},
    "y": {"field": "rmsf", "type": "quantitative", "scale": {"domain": [0, 3], "nice": false, "zero": false},
      "axis": {"orient": "right", "values": [0.25, 0.75, 1.25, 1.75, 2.25, 2.75], "tickSize": -9, "labels": false, "domain": false, "title": null}}
  }
}
],
"resolve": {"axis": {"x": "independent", "y": "independent"}}
}
